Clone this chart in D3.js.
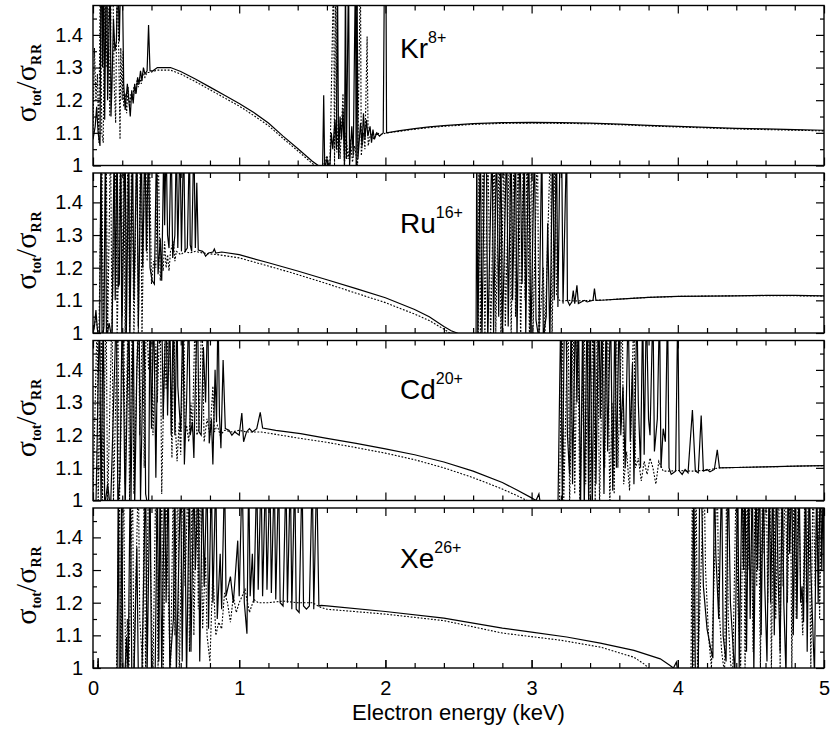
<!DOCTYPE html>
<html>
<head>
<meta charset="utf-8">
<script src="https://cdn.jsdelivr.net/npm/d3@7"></script>
<style>
  body { margin: 0; background: #fff; }
  text { font-family: "Liberation Sans", Arial, sans-serif; }
</style>
</head>
<body>
<svg id="chart" width="831" height="742"></svg>
<script>
// ion labels, one per panel (top to bottom)
var ionNames = ["Kr", "Ru", "Cd", "Xe"];
var ionCharges = ["8+", "16+", "20+", "26+"];

var energyTicks = [0, 1, 2, 3, 4, 5];
var energyMinor = [0.2, 0.4, 0.6, 0.8, 1.2, 1.4, 1.6, 1.8, 2.2, 2.4, 2.6, 2.8, 3.2, 3.4, 3.6, 3.8, 4.2, 4.4, 4.6, 4.8];
var ratioTicks = [1, 1.1, 1.2, 1.3, 1.4];
var ratioMinor = [1.05, 1.15, 1.25, 1.35, 1.45];

// [electron energy keV, sigma_tot/sigma_RR] ; solid and dotted curves
var krSolid = [[0,1.08],[0.015,1.12],[0.025,1.18],[0.035,1.1],[0.048,1.06],[0.055,1.6],[0.06,1.6],[0.065,1.3],[0.072,1.6],[0.08,1.14],[0.09,1.6],[0.095,1.6],[0.1,1.2],[0.11,1.42],[0.118,1.6],[0.123,1.15],[0.13,1.25],[0.14,1.45],[0.15,1.35],[0.16,1.38],[0.17,1.6],[0.18,1.38],[0.19,1.6],[0.2,1.6],[0.21,1.25],[0.22,1.17],[0.235,1.25],[0.245,1.2],[0.255,1.15],[0.265,1.23],[0.275,1.19],[0.285,1.25],[0.295,1.22],[0.305,1.27],[0.315,1.25],[0.325,1.29],[0.335,1.26],[0.345,1.3],[0.355,1.28],[0.37,1.29],[0.38,1.43],[0.39,1.29],[0.41,1.29],[0.44,1.3],[0.53,1.3],[0.6,1.288],[0.7,1.265],[0.8,1.24],[0.9,1.215],[1.0,1.19],[1.1,1.162],[1.2,1.13],[1.3,1.09],[1.4,1.052],[1.5,1.013],[1.54,1.0],[1.57,0.98],[1.578,1.215],[1.585,0.99],[1.6,1.02],[1.62,0.99],[1.63,1.1],[1.64,1.05],[1.655,1.14],[1.665,1.05],[1.672,1.6],[1.68,1.02],[1.69,1.15],[1.7,1.08],[1.71,1.17],[1.72,1.0],[1.727,1.6],[1.733,1.02],[1.748,1.6],[1.755,1.0],[1.77,1.12],[1.78,1.03],[1.795,1.6],[1.8,1.0],[1.806,1.6],[1.812,1.02],[1.83,1.13],[1.84,1.06],[1.85,1.16],[1.86,1.08],[1.87,1.14],[1.88,1.09],[1.895,1.12],[1.905,1.07],[1.915,1.11],[1.925,1.08],[1.94,1.1],[1.96,1.09],[1.985,1.1],[1.995,1.7],[2.003,1.7],[2.008,1.1],[2.1,1.107],[2.2,1.113],[2.3,1.118],[2.4,1.122],[2.6,1.128],[2.8,1.131],[3.0,1.132],[3.2,1.131],[3.4,1.13],[3.6,1.127],[3.8,1.123],[4.0,1.12],[4.2,1.117],[4.4,1.114],[4.6,1.112],[4.8,1.11],[5.0,1.108]];
var krDotted = [[0,1.1],[0.01,1.36],[0.02,1.2],[0.03,1.28],[0.04,1.07],[0.05,1.6],[0.06,1.1],[0.07,1.07],[0.08,1.6],[0.09,1.3],[0.1,1.6],[0.115,1.15],[0.125,1.6],[0.135,1.6],[0.145,1.25],[0.155,1.13],[0.165,1.6],[0.175,1.38],[0.185,1.08],[0.19,1.36],[0.2,1.2],[0.205,1.35],[0.21,1.18],[0.22,1.22],[0.23,1.16],[0.24,1.24],[0.25,1.18],[0.26,1.22],[0.27,1.2],[0.28,1.24],[0.29,1.22],[0.3,1.26],[0.31,1.24],[0.32,1.27],[0.33,1.25],[0.34,1.28],[0.355,1.27],[0.37,1.285],[0.39,1.285],[0.44,1.292],[0.53,1.292],[0.6,1.28],[0.7,1.257],[0.8,1.232],[0.9,1.207],[1.0,1.182],[1.1,1.153],[1.2,1.122],[1.3,1.083],[1.4,1.045],[1.5,1.006],[1.52,1.0],[1.56,0.98],[1.6,1.03],[1.62,0.99],[1.646,1.6],[1.652,1.0],[1.66,1.6],[1.668,1.04],[1.68,1.14],[1.69,1.02],[1.71,1.22],[1.72,1.0],[1.73,1.1],[1.745,1.02],[1.76,1.08],[1.775,1.01],[1.79,1.06],[1.81,1.0],[1.829,1.6],[1.835,1.03],[1.85,1.1],[1.86,1.05],[1.875,1.395],[1.882,1.06],[1.9,1.1],[1.92,1.08],[1.94,1.1],[1.97,1.095],[2.0,1.099],[2.1,1.105],[2.2,1.111],[2.3,1.116],[2.4,1.12],[2.6,1.126],[2.8,1.129],[3.0,1.13],[3.2,1.129],[3.4,1.128],[3.6,1.125],[3.8,1.121],[4.0,1.118],[4.2,1.115],[4.4,1.112],[4.6,1.11],[4.8,1.108],[5.0,1.106]];

var ruSolid = [[0,1.0],[0.01,1.02],[0.02,1.07],[0.03,1.01],[0.045,0.98],[0.055,1.6],[0.062,0.97],[0.075,1.02],[0.085,1.6],[0.092,0.98],[0.11,1.03],[0.13,0.98],[0.145,1.6],[0.152,1.1],[0.165,1.6],[0.172,1.14],[0.18,1.15],[0.19,1.6],[0.197,0.98],[0.22,1.6],[0.228,1.0],[0.245,1.6],[0.252,0.98],[0.27,1.6],[0.28,1.1],[0.3,1.6],[0.31,1.02],[0.33,1.6],[0.34,1.2],[0.355,1.6],[0.365,1.25],[0.38,1.6],[0.39,1.2],[0.405,1.16],[0.42,1.15],[0.435,1.6],[0.445,1.18],[0.46,1.29],[0.47,1.16],[0.485,1.6],[0.49,1.33],[0.5,1.6],[0.51,1.3],[0.52,1.26],[0.535,1.6],[0.545,1.23],[0.56,1.3],[0.57,1.6],[0.58,1.26],[0.595,1.6],[0.605,1.25],[0.62,1.6],[0.63,1.25],[0.645,1.26],[0.66,1.6],[0.665,1.27],[0.675,1.25],[0.69,1.6],[0.7,1.26],[0.71,1.46],[0.72,1.254],[0.75,1.25],[0.76,1.245],[0.77,1.235],[0.79,1.245],[0.82,1.248],[0.83,1.257],[0.84,1.245],[0.88,1.248],[1.0,1.24],[1.2,1.215],[1.4,1.19],[1.6,1.163],[1.8,1.136],[2.0,1.108],[2.2,1.072],[2.3,1.05],[2.4,1.02],[2.45,1.007],[2.49,1.0],[2.6,0.97],[2.62,0.97],[2.625,1.6],[2.632,0.98],[2.65,1.6],[2.66,0.97],[2.68,1.6],[2.69,1.6],[2.7,0.97],[2.73,1.6],[2.74,1.0],[2.76,1.6],[2.775,1.05],[2.79,1.6],[2.8,0.98],[2.83,1.6],[2.84,1.02],[2.86,1.6],[2.87,1.1],[2.89,1.6],[2.9,0.98],[2.92,1.6],[2.935,1.15],[2.95,1.6],[2.96,1.0],[2.98,1.6],[2.995,0.97],[3.02,1.6],[3.03,1.04],[3.05,0.98],[3.07,1.6],[3.08,0.99],[3.1,1.05],[3.11,1.336],[3.125,0.97],[3.145,1.6],[3.155,1.1],[3.17,1.6],[3.18,1.08],[3.195,1.6],[3.205,1.6],[3.215,1.09],[3.24,1.6],[3.245,1.1],[3.26,1.085],[3.275,1.095],[3.285,1.13],[3.295,1.09],[3.31,1.146],[3.32,1.09],[3.34,1.095],[3.36,1.1],[3.38,1.095],[3.42,1.1],[3.43,1.136],[3.44,1.1],[3.5,1.101],[3.6,1.104],[3.8,1.109],[4.0,1.112],[4.2,1.113],[4.4,1.114],[4.6,1.115],[4.8,1.115],[5.0,1.114]];
var ruDotted = [[0,1.0],[0.02,1.05],[0.04,0.98],[0.06,1.6],[0.07,0.97],[0.09,1.6],[0.1,1.0],[0.12,1.6],[0.13,1.0],[0.155,1.6],[0.165,0.98],[0.19,1.6],[0.2,1.05],[0.21,1.6],[0.22,0.98],[0.24,1.6],[0.25,1.0],[0.265,1.6],[0.28,0.98],[0.3,1.6],[0.31,1.0],[0.325,1.6],[0.335,0.98],[0.35,1.45],[0.36,1.6],[0.37,1.22],[0.385,1.6],[0.4,1.15],[0.415,1.22],[0.43,1.2],[0.445,1.6],[0.46,1.16],[0.47,1.23],[0.48,1.19],[0.49,1.28],[0.5,1.2],[0.51,1.24],[0.52,1.19],[0.53,1.25],[0.55,1.28],[0.56,1.22],[0.57,1.25],[0.6,1.24],[0.63,1.25],[0.66,1.245],[0.7,1.25],[0.75,1.245],[0.85,1.24],[1.0,1.23],[1.2,1.205],[1.4,1.179],[1.6,1.151],[1.8,1.122],[2.0,1.093],[2.2,1.058],[2.3,1.038],[2.4,1.012],[2.44,1.0],[2.5,0.97],[2.635,0.97],[2.64,1.6],[2.65,0.98],[2.67,1.6],[2.68,0.97],[2.7,1.6],[2.72,0.98],[2.745,1.6],[2.755,1.0],[2.78,1.6],[2.79,0.97],[2.81,1.6],[2.82,1.02],[2.85,1.6],[2.86,0.98],[2.88,1.6],[2.89,1.05],[2.91,1.6],[2.925,0.97],[2.945,1.6],[2.955,1.1],[2.97,1.6],[2.985,0.98],[3.0,1.6],[3.01,1.0],[3.04,1.6],[3.05,0.98],[3.08,1.2],[3.09,0.97],[3.13,1.6],[3.14,0.97],[3.16,1.6],[3.17,1.12],[3.19,1.1],[3.22,1.098],[3.25,1.1],[3.3,1.098],[3.4,1.1],[3.5,1.101],[3.6,1.104],[3.8,1.109],[4.0,1.112],[4.2,1.113],[4.4,1.114],[4.6,1.114],[4.8,1.114],[5.0,1.113]];

var cdSolid = [[0,1.0],[0.02,0.98],[0.045,1.6],[0.055,0.97],[0.07,1.6],[0.08,0.98],[0.1,1.05],[0.12,0.97],[0.16,1.6],[0.17,0.98],[0.185,1.08],[0.2,1.6],[0.21,1.32],[0.22,0.97],[0.245,1.6],[0.26,1.0],[0.275,1.6],[0.285,0.98],[0.3,1.4],[0.315,1.6],[0.325,1.0],[0.35,1.6],[0.36,1.02],[0.38,0.97],[0.39,1.6],[0.4,1.22],[0.415,1.6],[0.43,1.07],[0.445,1.6],[0.455,1.48],[0.47,1.6],[0.48,1.25],[0.5,1.6],[0.51,1.26],[0.525,1.6],[0.535,1.2],[0.55,1.6],[0.56,1.2],[0.575,1.6],[0.58,1.35],[0.6,1.21],[0.615,1.6],[0.625,1.11],[0.64,1.3],[0.655,1.6],[0.665,1.2],[0.68,1.24],[0.69,1.13],[0.7,1.35],[0.715,1.6],[0.725,1.21],[0.74,1.2],[0.755,1.47],[0.77,1.3],[0.785,1.6],[0.795,1.175],[0.81,1.25],[0.82,1.11],[0.835,1.4],[0.845,1.24],[0.855,1.6],[0.865,1.26],[0.875,1.16],[0.89,1.43],[0.905,1.22],[0.93,1.215],[0.95,1.2],[0.97,1.21],[1.0,1.2],[1.018,1.268],[1.03,1.18],[1.05,1.21],[1.07,1.22],[1.09,1.21],[1.12,1.22],[1.144,1.27],[1.16,1.222],[1.25,1.215],[1.42,1.205],[1.6,1.19],[1.8,1.175],[2.0,1.158],[2.2,1.14],[2.4,1.118],[2.6,1.09],[2.8,1.055],[2.9,1.032],[3.0,1.008],[3.03,1.0],[3.05,1.02],[3.06,0.99],[3.18,0.97],[3.2,1.6],[3.21,0.98],[3.225,1.6],[3.235,1.6],[3.245,1.2],[3.26,1.08],[3.27,1.6],[3.28,1.05],[3.3,1.6],[3.31,1.3],[3.32,1.6],[3.335,0.98],[3.35,1.6],[3.36,0.97],[3.38,1.6],[3.39,1.0],[3.4,1.6],[3.415,0.97],[3.43,1.6],[3.44,1.05],[3.46,1.6],[3.47,1.25],[3.48,1.6],[3.495,1.02],[3.51,1.6],[3.52,1.15],[3.54,1.6],[3.555,1.03],[3.57,1.6],[3.58,1.1],[3.6,1.6],[3.61,1.2],[3.625,1.35],[3.64,1.1],[3.66,1.6],[3.675,1.18],[3.69,1.42],[3.7,1.05],[3.72,1.6],[3.73,1.3],[3.745,1.1],[3.76,1.6],[3.77,1.14],[3.785,1.6],[3.8,1.25],[3.81,1.2],[3.83,1.6],[3.84,1.15],[3.86,1.25],[3.875,1.6],[3.885,1.1],[3.9,1.22],[3.915,1.18],[3.93,1.6],[3.94,1.1],[3.955,1.08],[3.97,1.085],[3.985,1.09],[4.0,1.6],[4.01,1.09],[4.03,1.08],[4.05,1.095],[4.07,1.085],[4.1,1.277],[4.12,1.09],[4.14,1.085],[4.16,1.26],[4.175,1.09],[4.2,1.095],[4.22,1.088],[4.25,1.095],[4.27,1.155],[4.285,1.1],[4.4,1.101],[4.6,1.103],[4.8,1.105],[5.0,1.107]];
var cdDotted = [[0,1.0],[0.03,1.6],[0.035,0.98],[0.06,1.6],[0.065,1.0],[0.09,1.6],[0.1,0.97],[0.13,1.6],[0.14,1.0],[0.17,1.6],[0.18,0.97],[0.21,1.6],[0.22,1.05],[0.24,1.6],[0.25,1.0],[0.27,1.6],[0.28,1.02],[0.31,1.6],[0.32,1.2],[0.34,1.6],[0.35,1.1],[0.365,1.6],[0.38,1.4],[0.4,1.6],[0.41,1.2],[0.43,1.48],[0.44,1.3],[0.46,1.6],[0.47,1.02],[0.49,1.48],[0.5,1.34],[0.52,1.6],[0.54,1.13],[0.555,1.6],[0.56,1.26],[0.575,1.12],[0.59,1.24],[0.6,1.14],[0.62,1.6],[0.63,1.2],[0.64,1.23],[0.655,1.18],[0.67,1.3],[0.68,1.21],[0.7,1.6],[0.71,1.2],[0.725,1.22],[0.745,1.6],[0.76,1.18],[0.78,1.25],[0.8,1.2],[0.82,1.35],[0.83,1.21],[0.85,1.23],[0.87,1.2],[0.9,1.215],[0.95,1.21],[1.0,1.215],[1.05,1.21],[1.15,1.21],[1.42,1.19],[1.6,1.178],[1.8,1.162],[2.0,1.145],[2.2,1.125],[2.4,1.1],[2.6,1.07],[2.79,1.037],[2.9,1.015],[2.97,1.0],[3.19,0.97],[3.21,1.6],[3.22,1.0],[3.25,1.6],[3.26,0.98],[3.285,1.6],[3.295,1.02],[3.315,1.6],[3.33,0.97],[3.36,1.6],[3.37,1.05],[3.39,1.6],[3.4,0.98],[3.42,1.6],[3.435,1.0],[3.45,1.6],[3.465,0.98],[3.49,1.6],[3.5,1.1],[3.52,1.6],[3.535,0.98],[3.55,1.3],[3.565,1.02],[3.58,1.6],[3.59,1.1],[3.62,1.6],[3.63,1.05],[3.65,1.15],[3.67,1.03],[3.7,1.6],[3.71,1.1],[3.73,1.13],[3.75,1.06],[3.77,1.12],[3.79,1.08],[3.81,1.13],[3.83,1.1],[3.85,1.05],[3.87,1.12],[3.9,1.09],[3.95,1.09],[4.0,1.092],[4.1,1.09],[4.2,1.093],[4.28,1.1],[4.4,1.101],[4.6,1.103],[4.8,1.105],[5.0,1.107]];

var xeSolid = [[0,0.97],[0.03,0.98],[0.035,1.03],[0.04,0.97],[0.165,0.97],[0.173,1.6],[0.18,0.97],[0.19,1.0],[0.196,1.6],[0.205,0.98],[0.22,1.0],[0.23,1.095],[0.24,0.98],[0.255,1.6],[0.265,1.0],[0.28,0.97],[0.3,1.37],[0.31,0.98],[0.334,0.97],[0.36,1.6],[0.37,0.98],[0.39,1.6],[0.4,1.0],[0.425,0.97],[0.44,1.6],[0.45,1.02],[0.459,1.6],[0.47,0.98],[0.49,1.6],[0.5,1.2],[0.515,1.6],[0.525,1.0],[0.55,1.15],[0.56,1.6],[0.57,0.98],[0.6,1.6],[0.61,1.02],[0.625,1.6],[0.64,0.97],[0.66,1.6],[0.67,1.05],[0.69,1.6],[0.7,1.3],[0.72,1.6],[0.73,1.02],[0.75,1.6],[0.76,1.25],[0.78,1.6],[0.79,1.12],[0.81,1.6],[0.82,1.2],[0.84,1.6],[0.85,1.15],[0.87,1.35],[0.88,1.18],[0.9,1.6],[0.91,1.22],[0.94,1.28],[0.96,1.2],[0.99,1.39],[1.0,1.22],[1.02,1.6],[1.035,1.2],[1.053,1.105],[1.065,1.6],[1.075,1.22],[1.09,1.35],[1.1,1.2],[1.12,1.6],[1.13,1.24],[1.15,1.6],[1.16,1.22],[1.18,1.6],[1.19,1.24],[1.21,1.6],[1.22,1.23],[1.24,1.6],[1.25,1.21],[1.27,1.6],[1.28,1.2],[1.3,1.19],[1.32,1.6],[1.33,1.2],[1.35,1.6],[1.36,1.18],[1.38,1.6],[1.39,1.18],[1.41,1.17],[1.43,1.6],[1.44,1.19],[1.46,1.18],[1.48,1.19],[1.5,1.6],[1.51,1.18],[1.53,1.6],[1.545,1.19],[1.56,1.192],[1.6,1.19],[2.0,1.173],[2.4,1.153],[2.8,1.122],[3.0,1.11],[3.24,1.095],[3.47,1.076],[3.7,1.054],[3.88,1.028],[3.94,1.01],[3.97,1.0],[3.99,1.018],[4.0,0.99],[4.1,0.97],[4.105,1.36],[4.11,1.6],[4.12,0.98],[4.14,0.97],[4.15,1.6],[4.16,1.6],[4.175,1.25],[4.2,1.12],[4.225,1.06],[4.24,1.03],[4.25,1.6],[4.26,1.35],[4.28,1.15],[4.3,1.6],[4.31,1.1],[4.33,1.02],[4.345,1.6],[4.36,1.2],[4.38,1.05],[4.39,0.98],[4.41,1.6],[4.42,1.0],[4.44,1.6],[4.45,1.3],[4.46,1.6],[4.47,1.05],[4.485,1.6],[4.495,1.15],[4.51,1.6],[4.52,0.98],[4.535,1.6],[4.545,1.3],[4.56,1.6],[4.57,1.1],[4.585,1.6],[4.595,1.25],[4.61,1.02],[4.625,1.6],[4.635,1.2],[4.65,1.6],[4.66,1.1],[4.675,1.6],[4.685,1.3],[4.7,1.05],[4.715,1.6],[4.725,1.2],[4.74,0.98],[4.755,1.6],[4.765,1.35],[4.78,1.6],[4.79,1.1],[4.805,1.6],[4.815,1.15],[4.83,1.6],[4.84,1.2],[4.85,1.25],[4.86,1.14],[4.875,1.6],[4.885,1.05],[4.9,1.6],[4.91,1.3],[4.925,1.1],[4.935,0.98],[4.95,1.6],[4.96,1.2],[4.975,1.6],[4.985,1.3],[4.995,1.6],[5.0,1.3]];
var xeDotted = [[0,0.97],[0.03,0.98],[0.035,1.03],[0.04,0.97],[0.16,0.97],[0.18,1.6],[0.19,0.98],[0.21,1.6],[0.215,1.25],[0.225,1.0],[0.235,1.15],[0.245,0.98],[0.27,1.6],[0.28,1.0],[0.31,1.6],[0.32,1.15],[0.34,1.0],[0.35,1.6],[0.36,0.97],[0.38,1.6],[0.39,1.4],[0.41,0.98],[0.43,1.6],[0.445,1.0],[0.47,1.6],[0.48,0.97],[0.5,1.6],[0.51,1.3],[0.53,0.98],[0.55,1.6],[0.56,1.1],[0.58,1.6],[0.59,0.97],[0.615,1.6],[0.63,1.25],[0.65,1.6],[0.66,1.05],[0.68,1.6],[0.69,1.1],[0.71,1.6],[0.72,1.18],[0.735,1.6],[0.75,1.12],[0.77,1.34],[0.78,1.1],[0.8,1.02],[0.82,1.3],[0.84,1.1],[0.86,1.14],[0.88,1.12],[0.9,1.23],[0.92,1.2],[0.94,1.14],[0.96,1.22],[0.98,1.17],[1.0,1.2],[1.04,1.24],[1.07,1.17],[1.1,1.21],[1.13,1.2],[1.2,1.2],[1.3,1.205],[1.4,1.2],[1.5,1.2],[1.56,1.185],[1.6,1.18],[2.0,1.165],[2.4,1.145],[2.8,1.107],[3.0,1.096],[3.2,1.085],[3.47,1.064],[3.7,1.033],[3.77,1.012],[3.8,1.0],[3.9,0.98],[4.09,0.98],[4.1,1.6],[4.11,1.0],[4.125,1.6],[4.135,0.97],[4.18,1.6],[4.19,1.3],[4.21,1.1],[4.23,1.0],[4.27,1.6],[4.28,1.2],[4.3,1.05],[4.32,0.98],[4.335,1.6],[4.345,1.15],[4.36,1.02],[4.375,0.97],[4.4,1.6],[4.41,1.2],[4.43,1.0],[4.45,1.6],[4.46,0.98],[4.475,1.6],[4.48,1.3],[4.5,1.6],[4.515,1.05],[4.53,1.6],[4.54,1.25],[4.55,1.6],[4.565,1.0],[4.58,1.6],[4.59,1.35],[4.605,1.6],[4.615,1.2],[4.63,1.6],[4.64,0.98],[4.655,1.6],[4.67,1.15],[4.69,1.6],[4.7,1.0],[4.71,1.6],[4.72,1.25],[4.735,1.6],[4.75,1.2],[4.77,1.6],[4.78,1.0],[4.795,1.6],[4.81,1.15],[4.825,1.6],[4.84,1.25],[4.855,1.1],[4.87,1.6],[4.88,1.2],[4.895,1.6],[4.91,1.0],[4.925,1.6],[4.94,1.25],[4.955,1.6],[4.97,1.15],[4.985,1.6],[5.0,1.4]];

var panels = [
  { ion: ionNames[0], charge: ionCharges[0], solid: krSolid, dotted: krDotted },
  { ion: ionNames[1], charge: ionCharges[1], solid: ruSolid, dotted: ruDotted },
  { ion: ionNames[2], charge: ionCharges[2], solid: cdSolid, dotted: cdDotted },
  { ion: ionNames[3], charge: ionCharges[3], solid: xeSolid, dotted: xeDotted }
];

var left = 93, right = 824;
var panelTop0 = 5.5, panelH = 160, panelStep = 167.5;
var labelDy = [52, 60, 58, 60];

var svg = d3.select("#chart");
svg.append("rect").attr("width", 831).attr("height", 742).attr("fill", "#fff");

var x = d3.scaleLinear().domain([0, 5]).range([left, right]);

panels.forEach(function (p, i) {
  var top = panelTop0 + i * panelStep;
  var bottom = top + panelH;
  var y = d3.scaleLinear().domain([1, 1.49]).range([bottom, top]);

  var g = svg.append("g").attr("class", "panel-" + i);

  g.append("clipPath").attr("id", "clip" + i)
    .append("rect").attr("x", left).attr("y", top)
    .attr("width", right - left).attr("height", panelH);

  var line = d3.line().x(d => x(d[0])).y(d => y(d[1]));

  var plot = g.append("g").attr("clip-path", "url(#clip" + i + ")");
  plot.append("path").datum(p.dotted)
    .attr("d", line).attr("fill", "none")
    .attr("stroke", "#000").attr("stroke-width", 1.1)
    .attr("stroke-dasharray", "1.8,1.6");
  plot.append("path").datum(p.solid)
    .attr("d", line).attr("fill", "none")
    .attr("stroke", "#000").attr("stroke-width", 1.2);

  // ticks, all pointing inward
  function tickGroup(axis, tx, ty) {
    var a = g.append("g").attr("transform", "translate(" + tx + "," + ty + ")").call(axis);
    a.select(".domain").remove();
    a.selectAll("line").attr("stroke", "#000").attr("stroke-width", 1.2);
    return a;
  }
  tickGroup(d3.axisBottom(x).tickValues(energyTicks).tickSize(-8).tickFormat(""), 0, bottom);
  tickGroup(d3.axisBottom(x).tickValues(energyMinor).tickSize(-5).tickFormat(""), 0, bottom);
  tickGroup(d3.axisTop(x).tickValues(energyTicks).tickSize(-8).tickFormat(""), 0, top);
  tickGroup(d3.axisTop(x).tickValues(energyMinor).tickSize(-5).tickFormat(""), 0, top);
  tickGroup(d3.axisRight(y).tickValues(ratioTicks).tickSize(-8).tickFormat(""), right, 0);
  tickGroup(d3.axisRight(y).tickValues(ratioMinor).tickSize(-4).tickFormat(""), right, 0);
  tickGroup(d3.axisLeft(y).tickValues(ratioMinor).tickSize(-4).tickFormat(""), left, 0);
  var yl = tickGroup(d3.axisLeft(y).tickValues(ratioTicks).tickSize(-8).tickPadding(10).tickFormat(d => String(d)), left, 0);
  yl.selectAll("text").attr("font-size", 20).attr("font-family", "Liberation Sans, Arial, sans-serif").attr("fill", "#000");

  if (i === panels.length - 1) {
    var xl = tickGroup(d3.axisBottom(x).tickValues(energyTicks).tickSize(-8).tickPadding(13).tickFormat(d => String(d)), 0, bottom);
    xl.selectAll("text").attr("font-size", 20).attr("font-family", "Liberation Sans, Arial, sans-serif").attr("fill", "#000");
  }

  g.append("rect").attr("x", left).attr("y", top)
    .attr("width", right - left).attr("height", panelH)
    .attr("fill", "none").attr("stroke", "#000").attr("stroke-width", 1.4);

  // ion label
  var lab = g.append("text").attr("x", 400).attr("y", top + labelDy[i]).attr("font-size", 28);
  lab.append("tspan").text(p.ion);
  lab.append("tspan").attr("font-size", 16).attr("dy", -15).text(p.charge);

  // y axis label sigma_tot / sigma_RR
  var yt = g.append("text")
    .attr("transform", "translate(36," + (top + panelH / 2 - 3) + ") rotate(-90)")
    .attr("text-anchor", "middle")
    .style("font-family", "Liberation Serif, Times New Roman, serif");
  yt.append("tspan").attr("font-size", 30).text("σ");
  yt.append("tspan").attr("font-size", 14).attr("font-weight", "bold").attr("dy", 5).text("tot");
  yt.append("tspan").attr("font-size", 30).attr("dy", -5).text("/σ");
  yt.append("tspan").attr("font-size", 14).attr("font-weight", "bold").attr("dy", 5).attr("letter-spacing", 1).text("RR");
});

svg.append("text")
  .attr("x", (left + right) / 2).attr("y", 720)
  .attr("text-anchor", "middle").attr("font-size", 22)
  .text("Electron energy (keV)");
</script>
</body>
</html>
